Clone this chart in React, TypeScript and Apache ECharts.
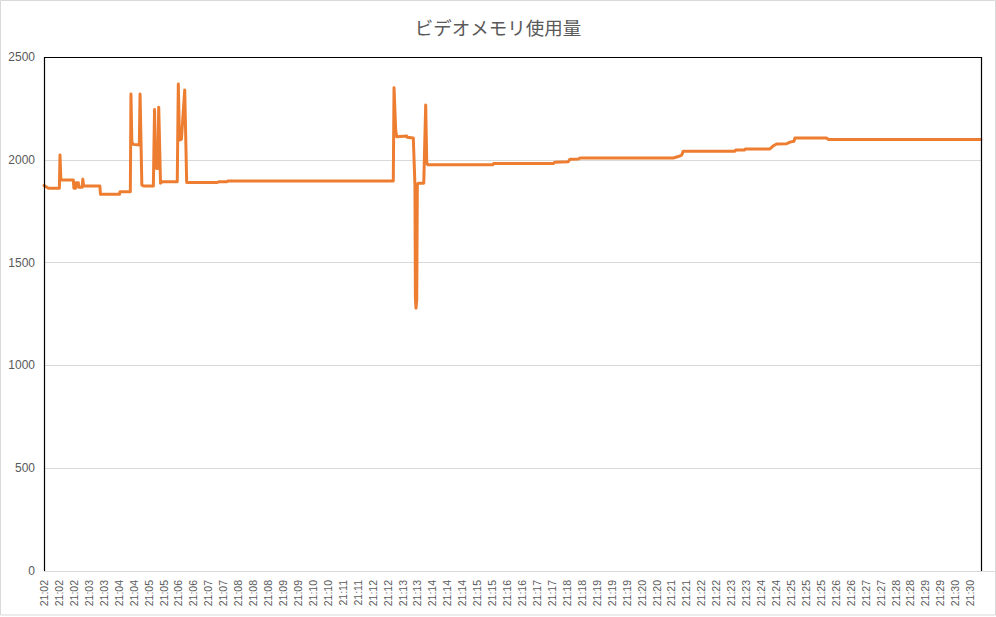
import React, { useEffect, useRef } from "react";
import * as echarts from "echarts";

const chartTitle = "ビデオメモリ使用量";

const xTickLabels: string[] = [
  "21:02", "21:02", "21:02", "21:03", "21:03", "21:04", "21:04", "21:05", "21:05", "21:06",
  "21:06", "21:07", "21:07", "21:08", "21:08", "21:08", "21:09", "21:09", "21:10", "21:10",
  "21:11", "21:11", "21:12", "21:12", "21:13", "21:13", "21:14", "21:14", "21:14", "21:15",
  "21:15", "21:16", "21:16", "21:17", "21:17", "21:18", "21:18", "21:19", "21:19", "21:19",
  "21:20", "21:20", "21:21", "21:21", "21:22", "21:22", "21:23", "21:23", "21:24", "21:24",
  "21:25", "21:25", "21:25", "21:26", "21:26", "21:27", "21:27", "21:28", "21:28", "21:29",
  "21:29", "21:30", "21:30",
];

// position along the time axis, measured in tick-label steps
const samplePos: number[] = [
  0, 0.3, 1.03, 1.07, 1.13, 1.96, 2.0, 2.12, 2.15, 2.3,
  2.33, 2.55, 2.6, 2.65, 3.74, 3.78, 5.05, 5.09, 5.78, 5.82,
  5.88, 5.96, 6.38, 6.43, 6.55, 6.7, 7.32, 7.4, 7.46, 7.6,
  7.68, 7.8, 7.9, 8.92, 8.99, 9.07, 9.2, 9.42, 9.55, 11.6,
  11.7, 12.25, 12.3, 23.38, 23.43, 23.54, 23.61, 24.28, 24.3, 24.72,
  24.83, 24.86, 24.9, 24.95, 24.99, 25.05, 25.42, 25.55, 25.62, 25.7,
  30.05, 30.1, 34.09, 34.2, 35.09, 35.21, 35.77, 35.88, 42.12, 42.46,
  42.68, 42.79, 46.25, 46.3, 46.9, 46.95, 48.59, 48.8, 49.04, 49.71,
  49.93, 50.2, 50.27, 52.39, 52.5, 62.72,
];

// video memory usage (MB)
const memoryUsage: number[] = [
  1875, 1862, 1862, 2023, 1902, 1902, 1862, 1862, 1888, 1888,
  1866, 1866, 1906, 1872, 1872, 1832, 1832, 1845, 1845, 2320,
  2088, 2075, 2072, 2320, 1877, 1872, 1872, 2245, 1960, 1958,
  2255, 1886, 1893, 1893, 2369, 2096, 2100, 2340, 1890, 1890,
  1893, 1893, 1897, 1897, 2351, 2145, 2112, 2116, 2110, 2106,
  1877, 1330, 1278, 1320, 1877, 1886, 1886, 2267, 1983, 1976,
  1976, 1982, 1982, 1988, 1991, 2003, 2004, 2009, 2009, 2016,
  2023, 2042, 2042, 2048, 2048, 2053, 2053, 2067, 2077, 2078,
  2086, 2090, 2106, 2106, 2099, 2099,
];

const yTicks = { min: 0, max: 2500, interval: 500 };
const xMax = 62.72;

export default function App() {
  const ref = useRef<HTMLDivElement>(null);

  useEffect(() => {
    document.body.style.margin = "0";
    if (!ref.current) return;
    const chart = echarts.init(ref.current, undefined, { renderer: "svg" });
    const data = samplePos.map((p, i) => [p, memoryUsage[i]]);
    chart.setOption({
      animation: false,
      backgroundColor: "#ffffff",
      title: {
        text: chartTitle,
        left: "center",
        top: 13,
        textStyle: {
          fontFamily: "Noto Sans CJK JP",
          fontSize: 18.5,
          fontWeight: "normal",
          color: "#595959",
        },
      },
      graphic: [
        {
          type: "rect",
          shape: { x: 0.5, y: 0.5, width: 995, height: 614.5 },
          style: { fill: "none", stroke: "#d9d9d9", lineWidth: 1 },
          silent: true,
        },
        {
          type: "line",
          shape: { x1: 981, y1: 571.5, x2: 995, y2: 571.5 },
          style: { stroke: "#d9d9d9", lineWidth: 1 },
          silent: true,
        },
        {
          type: "polyline",
          shape: {
            points: [
              [44.5, 571],
              [44.5, 57.5],
              [981.5, 57.5],
              [981.5, 571],
            ],
          },
          style: { fill: "none", stroke: "#000000", lineWidth: 1.2 },
          silent: true,
          z: 10,
        },
      ],
      grid: {
        left: 44,
        top: 57,
        right: 15,
        bottom: 46,
        show: false,
        containLabel: false,
      },
      xAxis: {
        type: "value",
        min: 0,
        max: xMax,
        interval: 1,
        axisLine: { show: true, lineStyle: { color: "#d9d9d9", width: 1 } },
        axisTick: { show: false },
        splitLine: { show: false },
        axisLabel: {
          rotate: 90,
          margin: 9,
          color: "#595959",
          fontFamily: "Liberation Sans",
          fontSize: 10.5,
          showMaxLabel: false,
          formatter: (v: number) =>
            Number.isInteger(v) && xTickLabels[v] !== undefined ? xTickLabels[v] : "",
        },
      },
      yAxis: {
        type: "value",
        min: yTicks.min,
        max: yTicks.max,
        interval: yTicks.interval,
        axisLine: { show: false },
        axisTick: { show: false },
        splitLine: { show: true, lineStyle: { color: "#d9d9d9", width: 1 } },
        axisLabel: {
          margin: 9,
          color: "#595959",
          fontFamily: "Liberation Sans",
          fontSize: 12,
          formatter: (v: number) => String(v),
        },
      },
      series: [
        {
          type: "line",
          data,
          symbol: "none",
          showSymbol: false,
          lineStyle: { color: "#ED7D31", width: 3, join: "round", cap: "round" },
          itemStyle: { color: "#ED7D31" },
          z: 3,
        },
      ],
    });
    return () => chart.dispose();
  }, []);

  return <div ref={ref} style={{ width: 996, height: 617 }} />;
}
